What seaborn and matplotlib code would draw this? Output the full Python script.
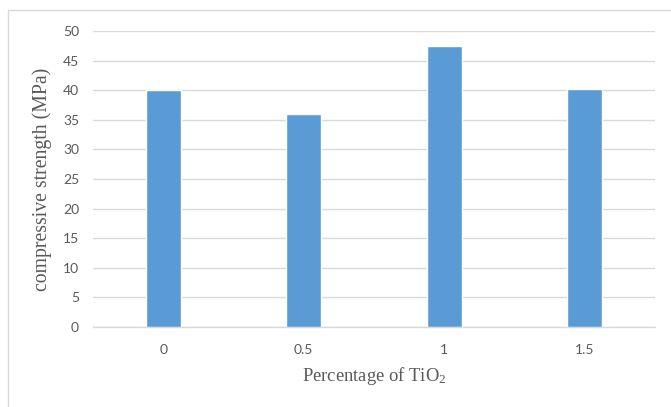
import matplotlib
matplotlib.use("Agg")
import matplotlib.pyplot as plt
import seaborn as sns
import pandas as pd
from matplotlib.patches import Rectangle

categories = ["0", "0.5", "1", "1.5"]
values = [40.0, 36.0, 47.5, 40.2]
yticks = [0, 5, 10, 15, 20, 25, 30, 35, 40, 45, 50]

sns.set_theme(style="white")
plt.rcParams["font.family"] = ["Liberation Serif", "DejaVu Serif"]
plt.rcParams["mathtext.fontset"] = "custom"
plt.rcParams["mathtext.rm"] = "Liberation Serif"
plt.rcParams["mathtext.it"] = "Liberation Serif:italic"
plt.rcParams["mathtext.bf"] = "Liberation Serif:bold"

df = pd.DataFrame({"pct": categories, "strength": values})

fig = plt.figure(figsize=(6.71, 4.07), dpi=100)
fig.patches.append(Rectangle((8/671, -0.5), 2.0, 1.5 - 10/407,
                             transform=fig.transFigure, fill=False,
                             edgecolor="#D9D9D9", linewidth=1.0))
ax = fig.add_axes([93/671, 80/407, 562/671, 296/407])
sns.barplot(data=df, x="pct", y="strength", order=categories, color="#5B9BD5",
            width=0.25, saturation=1, ax=ax, zorder=3)
ax.set_ylim(0, 50)
ax.set_yticks(yticks)
ax.set_xlim(-0.5, 3.5)
ax.yaxis.grid(True, color="#D9D9D9", linewidth=1.0, zorder=0)
ax.set_axisbelow(True)
for s in ["top", "right", "left"]:
    ax.spines[s].set_visible(False)
ax.spines["bottom"].set_color("#D9D9D9")
ax.spines["bottom"].set_linewidth(1.0)
ax.tick_params(axis="both", length=0, colors="#595959", labelsize=10)
ax.tick_params(axis="y", pad=10)
ax.tick_params(axis="x", pad=12)
for lab in ax.get_xticklabels() + ax.get_yticklabels():
    lab.set_fontfamily(["Lato", "DejaVu Sans"])
ax.set_xlabel("Percentage of Ti$\\mathrm{O_2}$", fontsize=13.4, color="#595959", labelpad=7)
ax.set_ylabel("compressive strength (MPa)", fontsize=14.2, color="#595959", labelpad=8)
fig.savefig("out.png", dpi=100)
